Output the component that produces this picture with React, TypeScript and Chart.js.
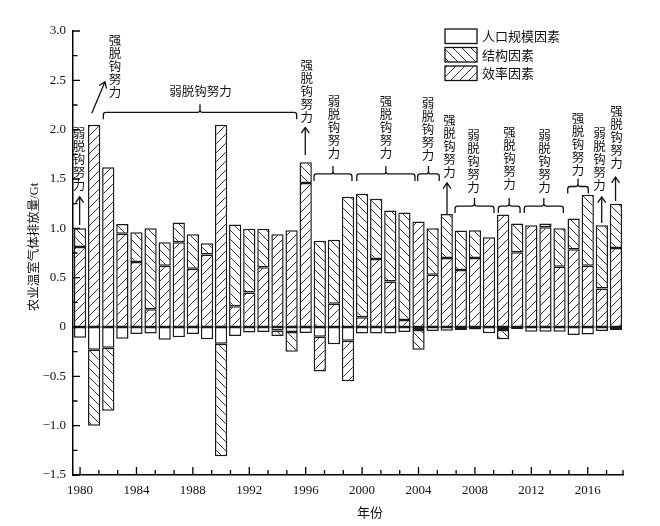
import React, { useEffect, useRef } from 'react';
import { Chart, registerables } from 'chart.js';

Chart.register(...registerables);

// ---------- data ----------
const years = [
  1980, 1981, 1982, 1983, 1984, 1985, 1986, 1987, 1988, 1989,
  1990, 1991, 1992, 1993, 1994, 1995, 1996, 1997, 1998, 1999,
  2000, 2001, 2002, 2003, 2004, 2005, 2006, 2007, 2008, 2009,
  2010, 2011, 2012, 2013, 2014, 2015, 2016, 2017, 2018,
];

// 人口规模因素
const populationEffect = [
  -0.11, -0.23, -0.21, -0.12, -0.07, -0.065, -0.13, -0.105, -0.07, -0.125,
  -0.17, -0.09, -0.055, -0.05, -0.035, -0.05, -0.06, -0.1, -0.175, -0.14,
  -0.065, -0.065, -0.065, -0.05, -0.03, -0.04, -0.037, -0.03, -0.025, -0.064,
  -0.03, -0.024, -0.047, -0.047, -0.047, -0.08, -0.075, -0.04, -0.03,
];

// 效率因素
const efficiencyEffect = [
  0.81, 2.05, 1.62, 0.945, 0.66, 0.18, 0.62, 0.86, 0.59, 0.735,
  2.05, 0.21, 0.35, 0.605, 0.94, 0.98, 1.46, -0.35, 0.235, -0.41,
  0.1, 0.69, 0.46, 0.07, 1.07, 0.53, 0.7, 0.578, 0.7, 0.91,
  1.14, 0.757, 1.03, 1.01, 0.61, 0.787, 0.62, 0.39, 0.8,
];

// 结构因素
const structureEffect = [
  0.19, -0.77, -0.64, 0.1, 0.3, 0.82, 0.24, 0.2, 0.35, 0.115,
  -1.14, 0.83, 0.645, 0.39, -0.055, -0.2, 0.21, 0.875, 0.65, 1.32,
  1.25, 0.61, 0.72, 1.09, -0.2, 0.47, 0.445, 0.4, 0.28, 0,
  -0.095, 0.293, 0, 0.04, 0.39, 0.313, 0.72, 0.64, 0.45,
];

const xLabelYears = [1980, 1984, 1988, 1992, 1996, 2000, 2004, 2008, 2012, 2016];
const legendLabels = ['人口规模因素', '结构因素', '效率因素'];
const yAxisTitle = '农业温室气体排放量/Gt';
const xAxisTitle = '年份';
const weakLabel = '弱脱钩努力';
const strongLabel = '强脱钩努力';

// ---------- annotations (in data units: year, value) ----------
const verticalNotes = [
  { text: weakLabel, year: 1979.93, top: 2.027 },
  { text: strongLabel, year: 1982.48, top: 2.977 },
  { text: strongLabel, year: 1996.07, top: 2.723 },
  { text: weakLabel, year: 1998.01, top: 2.351 },
  { text: strongLabel, year: 2001.69, top: 2.351 },
  { text: weakLabel, year: 2004.67, top: 2.331 },
  { text: strongLabel, year: 2006.2, top: 2.166 },
  { text: weakLabel, year: 2007.9, top: 2.014 },
  { text: strongLabel, year: 2010.45, top: 2.037 },
  { text: weakLabel, year: 2012.93, top: 2.014 },
  { text: strongLabel, year: 2015.31, top: 2.182 },
  { text: weakLabel, year: 2016.83, top: 2.03 },
  { text: strongLabel, year: 2018.04, top: 2.25 },
];

const horizontalNotes = [{ text: weakLabel, year: 1988.54, value: 2.392 }];

const arrows = [
  { x1: 1979.97, y1: 1.034, x2: 1979.97, y2: 1.32 },
  { x1: 1980.83, y1: 2.166, x2: 1981.77, y2: 2.486 },
  { x1: 1995.97, y1: 1.743, x2: 1995.97, y2: 2.024 },
  { x1: 2006.02, y1: 1.135, x2: 2006.02, y2: 1.46 },
  { x1: 2016.99, y1: 1.054, x2: 2016.99, y2: 1.318 },
  { x1: 2017.97, y1: 1.277, x2: 2017.97, y2: 1.52 },
];

const brackets = [
  { from: 1981.65, to: 1995.36, value: 2.176 },
  { from: 1996.59, to: 1999.28, value: 1.551 },
  { from: 1999.62, to: 2003.75, value: 1.551 },
  { from: 2003.94, to: 2005.47, value: 1.551 },
  { from: 2006.59, to: 2009.35, value: 1.226 },
  { from: 2009.66, to: 2011.2, value: 1.226 },
  { from: 2011.5, to: 2014.27, value: 1.226 },
  { from: 2014.58, to: 2016.04, value: 1.424 },
];

const FONT_FAMILY = "'Liberation Serif', 'Noto Sans CJK SC', serif";
const CJK_FONT = "'Noto Sans CJK SC', sans-serif";

export default function App() {
  const ref = useRef<HTMLCanvasElement>(null);

  useEffect(() => {
    const canvas = ref.current;
    if (!canvas) return;
    const ctx = canvas.getContext('2d')!;

    const makeHatch = (dir: string) => {
      const s = 9;
      const c = document.createElement('canvas');
      c.width = s;
      c.height = s;
      const g = c.getContext('2d')!;
      g.fillStyle = '#ffffff';
      g.fillRect(0, 0, s, s);
      g.strokeStyle = '#333333';
      g.lineWidth = 1;
      g.beginPath();
      if (dir === '/') {
        g.moveTo(-1, s + 1);
        g.lineTo(s + 1, -1);
        g.moveTo(-2, 2);
        g.lineTo(2, -2);
        g.moveTo(s - 2, s + 2);
        g.lineTo(s + 2, s - 2);
      } else {
        g.moveTo(-1, -1);
        g.lineTo(s + 1, s + 1);
        g.moveTo(-2, s - 2);
        g.lineTo(2, s + 2);
        g.moveTo(s - 2, -2);
        g.lineTo(s + 2, 2);
      }
      g.stroke();
      return ctx.createPattern(c, 'repeat') as CanvasPattern;
    };

    const backPattern = makeHatch('\\');
    const fwdPattern = makeHatch('/');
    const toBars = (arr: number[]) => arr.map((v) => (v === 0 ? null : v));

    const overlay = {
      id: 'overlay',
      beforeDatasetsDraw(chart: any) {
        const c = chart.ctx;
        const { left, right } = chart.chartArea;
        const y0 = chart.scales.y.getPixelForValue(0);
        c.save();
        c.strokeStyle = '#8a8a8a';
        c.lineWidth = 1.6;
        c.beginPath();
        c.moveTo(left, y0);
        c.lineTo(right - 2, y0);
        c.stroke();
        c.restore();
      },
      afterDraw(chart: any) {
        const c = chart.ctx as CanvasRenderingContext2D;
        const xs = chart.scales.x;
        const ys = chart.scales.y;
        const { left, right, bottom } = chart.chartArea;
        const px = (yr: number) => xs.getPixelForValue(yr - years[0]);
        const py = (v: number) => ys.getPixelForValue(v);

        c.save();
        c.strokeStyle = '#000';
        c.fillStyle = '#111';
        c.lineWidth = 1.3;

        // inward ticks on y
        c.beginPath();
        for (let v = ys.min; v <= ys.max + 1e-9; v += 0.25) {
          const isMajor = Math.abs(v * 2 - Math.round(v * 2)) < 1e-6;
          const y = py(v);
          c.moveTo(left, y);
          c.lineTo(left + (isMajor ? 7 : 4.5), y);
        }
        // inward ticks on x
        for (let k = 0; ; k++) {
          const yr = years[0] + (k * 4) / 3;
          if (yr > years[years.length - 1] + 0.5) break;
          const isMajor = k % 3 === 0;
          const x = px(yr);
          c.moveTo(x, bottom);
          c.lineTo(x, bottom - (isMajor ? 8 : 5));
        }
        c.moveTo(right, bottom);
        c.lineTo(right, bottom - 5);
        c.stroke();

        // axis titles
        c.font = `12.5px ${FONT_FAMILY}`;
        c.textAlign = 'center';
        c.textBaseline = 'middle';
        c.save();
        c.translate(35, 247);
        c.rotate(-Math.PI / 2);
        c.fillText(yAxisTitle, 0, 0);
        c.restore();
        c.font = `13px ${CJK_FONT}`;
        c.fillText(xAxisTitle, 370, 512);

        // legend
        const bg = [
          chart.data.datasets[0].backgroundColor,
          chart.data.datasets[2].backgroundColor,
          chart.data.datasets[1].backgroundColor,
        ];
        const rowTops = [29, 47.5, 66];
        c.textAlign = 'left';
        c.font = `13px ${CJK_FONT}`;
        legendLabels.forEach((lab, i) => {
          c.fillStyle = bg[i];
          c.fillRect(445, rowTops[i], 32, 14.5);
          c.lineWidth = 1.3;
          c.strokeStyle = '#111';
          c.strokeRect(445, rowTops[i], 32, 14.5);
          c.fillStyle = '#111';
          c.fillText(lab, 482, rowTops[i] + 7.5);
        });

        // vertical notes
        c.textAlign = 'center';
        c.textBaseline = 'middle';
        c.font = `12.5px ${CJK_FONT}`;
        c.fillStyle = '#111';
        const step = 13;
        verticalNotes.forEach((n) => {
          const x = px(n.year);
          const y0 = py(n.top);
          Array.from(n.text).forEach((ch, i) => {
            c.fillText(ch, x, y0 + step * i + step / 2);
          });
        });
        horizontalNotes.forEach((n) => {
          c.fillText(n.text, px(n.year), py(n.value));
        });

        // arrows
        c.strokeStyle = '#111';
        c.lineWidth = 1.3;
        arrows.forEach((a) => {
          const x1 = px(a.x1), y1 = py(a.y1), x2 = px(a.x2), y2 = py(a.y2);
          const ang = Math.atan2(y2 - y1, x2 - x1);
          const wing = 7;
          const spread = 0.6;
          c.beginPath();
          c.moveTo(x1, y1);
          c.lineTo(x2, y2);
          c.moveTo(x2 - wing * Math.cos(ang - spread), y2 - wing * Math.sin(ang - spread));
          c.lineTo(x2, y2);
          c.lineTo(x2 - wing * Math.cos(ang + spread), y2 - wing * Math.sin(ang + spread));
          c.stroke();
        });

        // brackets
        const r = 2.5;
        const depth = 7;
        const peak = 8;
        brackets.forEach((b) => {
          const x1 = px(b.from), x2 = px(b.to), y = py(b.value);
          const xm = (x1 + x2) / 2;
          c.beginPath();
          c.moveTo(x1, y + depth);
          c.lineTo(x1, y + r);
          c.quadraticCurveTo(x1, y, x1 + r, y);
          c.lineTo(xm - r, y);
          c.quadraticCurveTo(xm, y, xm, y - r);
          c.lineTo(xm, y - peak);
          c.moveTo(xm, y - r);
          c.quadraticCurveTo(xm, y, xm + r, y);
          c.lineTo(x2 - r, y);
          c.quadraticCurveTo(x2, y, x2, y + r);
          c.lineTo(x2, y + depth);
          c.stroke();
        });

        c.restore();
      },
    };

    const chart = new Chart(canvas, {
      type: 'bar',
      data: {
        labels: years.map(String),
        datasets: [
          { label: legendLabels[0], data: toBars(populationEffect), backgroundColor: '#ffffff' },
          { label: legendLabels[2], data: toBars(efficiencyEffect), backgroundColor: fwdPattern },
          { label: legendLabels[1], data: toBars(structureEffect), backgroundColor: backPattern },
        ],
      },
      options: {
        animation: false,
        responsive: false,
        maintainAspectRatio: false,
        layout: { padding: { left: 0, top: 31, right: 37, bottom: 0 } },
        datasets: {
          bar: {
            borderColor: '#1a1a1a',
            borderWidth: 1.5,
            borderSkipped: false,
            barPercentage: 0.87,
            categoryPercentage: 1,
            inflateAmount: 0,
          },
        },
        plugins: {
          legend: { display: false },
          tooltip: { enabled: false },
          title: { display: false },
        },
        scales: {
          x: {
            stacked: true,
            offset: true,
            grid: { display: false, drawTicks: false },
            border: { display: true, color: '#000', width: 1.5 },
            ticks: {
              autoSkip: false,
              maxRotation: 0,
              minRotation: 0,
              padding: 8,
              color: '#111',
              font: { family: FONT_FAMILY, size: 13 },
              callback: (_v: any, i: number) =>
                xLabelYears.includes(years[i]) ? String(years[i]) : '',
            },
            afterFit: (s: any) => {
              s.height = 51;
            },
          },
          y: {
            stacked: true,
            min: -1.5,
            max: 3,
            grid: { display: false, drawTicks: false },
            border: { display: true, color: '#000', width: 1.5 },
            ticks: {
              stepSize: 0.5,
              padding: 7,
              color: '#111',
              font: { family: FONT_FAMILY, size: 13 },
              callback: (v: any) => {
                const n = Number(v);
                if (Math.abs(n) < 1e-9) return '0';
                return (n < 0 ? '\u2212' : '') + Math.abs(n).toFixed(1);
              },
            },
            afterFit: (s: any) => {
              s.width = 73;
            },
          },
        },
      },
      plugins: [overlay],
    } as any);

    return () => chart.destroy();
  }, []);

  return (
    <div style={{ position: 'fixed', left: 0, top: 0, width: 660, height: 526, background: '#fff' }}>
      <canvas ref={ref} width={660} height={526} style={{ width: 660, height: 526, display: 'block' }} />
    </div>
  );
}
